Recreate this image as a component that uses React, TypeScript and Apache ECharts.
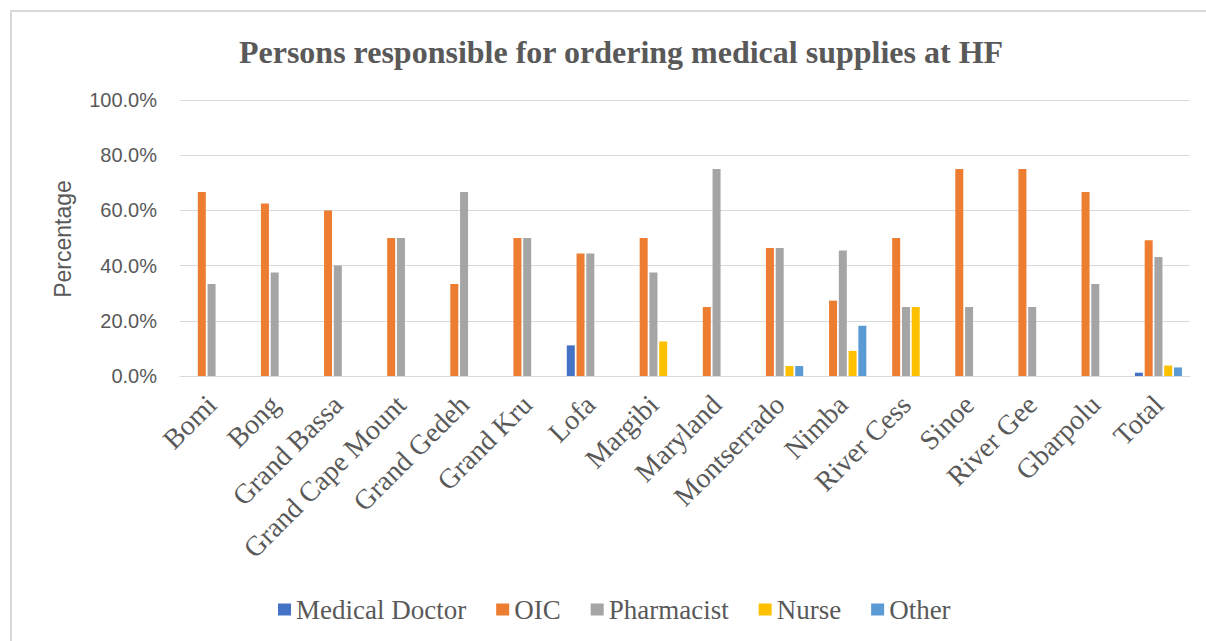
import React, { useEffect, useRef } from "react";
import * as echarts from "echarts";

const categories = [
  "Bomi", "Bong", "Grand Bassa", "Grand Cape Mount", "Grand Gedeh", "Grand Kru",
  "Lofa", "Margibi", "Maryland", "Montserrado", "Nimba", "River Cess", "Sinoe",
  "River Gee", "Gbarpolu", "Total",
];
const medicalDoctor = [0, 0, 0, 0, 0, 0, 11.1, 0, 0, 0, 0, 0, 0, 0, 0, 1.2];
const oic = [66.7, 62.5, 60.0, 50.0, 33.3, 50.0, 44.4, 50.0, 25.0, 46.4, 27.3, 50.0, 75.0, 75.0, 66.7, 49.2];
const pharmacist = [33.3, 37.5, 40.0, 50.0, 66.7, 50.0, 44.4, 37.5, 75.0, 46.4, 45.5, 25.0, 25.0, 25.0, 33.3, 43.1];
const nurse = [0, 0, 0, 0, 0, 0, 0, 12.5, 0, 3.6, 9.1, 25.0, 0, 0, 0, 3.8];
const other = [0, 0, 0, 0, 0, 0, 0, 0, 0, 3.6, 18.2, 0, 0, 0, 0, 3.1];
const seriesNames = ["Medical Doctor", "OIC", "Pharmacist", "Nurse", "Other"];
const seriesColors = ["#4472C4", "#ED7D31", "#A5A5A5", "#FFC000", "#5B9BD5"];
const yTicks = { min: 0, max: 100, interval: 20 };

const TEXT = "#595959";
const SERIF = "'Liberation Serif', 'Times New Roman', serif";
const SANS = "'Liberation Sans', Arial, sans-serif";

export default function App() {
  const ref = useRef<HTMLDivElement>(null);
  useEffect(() => {
    if (!ref.current) return;
    const chart = echarts.init(ref.current, undefined, { renderer: "svg" });
    const values = [medicalDoctor, oic, pharmacist, nurse, other];
    chart.setOption({
      animation: false,
      backgroundColor: "#ffffff",
      textStyle: { fontFamily: SERIF },
      title: {
        text: "Persons responsible for ordering medical supplies at HF",
        left: 616,
        top: 31,
        textAlign: "center",
        textStyle: {
          fontFamily: SERIF,
          fontWeight: "bold",
          fontSize: 32,
          color: TEXT,
        },
      },
      legend: {
        left: 273,
        top: 591,
        itemWidth: 13,
        itemHeight: 12,
        itemGap: 30,
        icon: "rect",
        data: seriesNames,
        formatter: "{s|{name}}",
        textStyle: {
          fontFamily: SERIF,
          fontSize: 27,
          color: TEXT,
          rich: {
            s: { fontFamily: SERIF, fontSize: 27, color: TEXT },
          },
        },
      },
      grid: { left: 180, right: 16, top: 100, bottom: 265, containLabel: false },
      xAxis: {
        type: "category",
        data: categories,
        axisLine: { lineStyle: { color: "#d9d9d9", width: 1 } },
        axisTick: { show: false },
        axisLabel: {
          rotate: 45,
          interval: 0,
          margin: 24,
          fontFamily: SERIF,
          fontSize: 28,
          color: TEXT,
        },
      },
      yAxis: {
        type: "value",
        min: yTicks.min,
        max: yTicks.max,
        interval: yTicks.interval,
        axisLine: { show: false },
        axisTick: { show: false },
        splitLine: { lineStyle: { color: "#d9d9d9", width: 1 } },
        axisLabel: {
          margin: 23,
          fontFamily: SANS,
          fontSize: 20,
          color: TEXT,
          formatter: (v: number) => v.toFixed(1) + "%",
        },
      },
      graphic: [
        {
          type: "rect",
          shape: { x: 11, y: 11, width: 1300, height: 700 },
          style: { fill: "none", stroke: "#d9d9d9", lineWidth: 2 },
          silent: true,
        },
        {
          type: "text",
          x: 62.5,
          y: 239,
          rotation: Math.PI / 2,
          style: {
            text: "Percentage",
            textAlign: "center",
            textVerticalAlign: "middle",
            fontFamily: SANS,
            fontSize: 23,
            fill: TEXT,
          },
        },
      ],
      series: seriesNames.map((name, i) => ({
        name,
        type: "bar",
        data: values[i],
        barWidth: 8,
        barGap: "22%",
        itemStyle: { color: seriesColors[i] },
      })),
    });
    return () => chart.dispose();
  }, []);
  return (
    <div
      ref={ref}
      style={{ position: "fixed", left: 0, top: 0, width: 1206, height: 641 }}
    />
  );
}
